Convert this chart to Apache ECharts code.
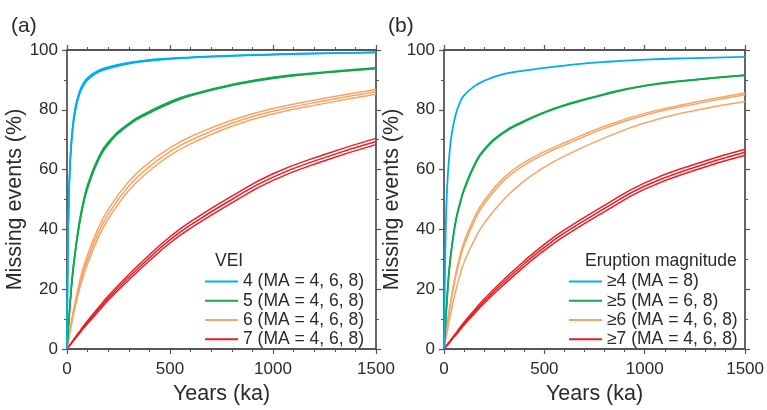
<!DOCTYPE html>
<html>
<head>
<meta charset="utf-8">
<script src="https://cdn.jsdelivr.net/npm/echarts@6/dist/echarts.min.js"></script>
<style>
html,body{margin:0;padding:0;background:#fff;}
#c{width:767px;height:410px;}
</style>
</head>
<body>
<div id="c"></div>
<script>
// Years (ka) sample positions shared by all curves
const X = [0,3,8,15,25,40,60,80,100,150,200,300,400,500,600,800,1000,1250,1500];

// Panel (a): VEI, MA = 4, 6, 8
const a_vei4_ma4 = [0,23,45,60.5,71,79.2,85,88,89.9,92.5,93.7,95.4,96.3,96.95,97.4,98,98.4,98.85,99.15];
const a_vei4_ma6 = [0,25,47,62,72,80,85.5,88.5,90.3,92.8,94,95.6,96.5,97.1,97.5,98.1,98.5,98.9,99.2];
const a_vei4_ma8 = [0,27,49,63.5,73,80.8,86,89,90.7,93.1,94.3,95.8,96.7,97.25,97.6,98.2,98.6,98.95,99.25];

const a_vei5_ma4 = [0,3.3,8.2,14.6,22.8,32,41.3,48.4,53.7,62.7,68.4,74.9,78.9,82.1,84.7,88.1,90.5,92.35,93.75];
const a_vei5_ma6 = [0,3.5,8.5,15,23.5,32.5,42,49,54.3,63.2,68.8,75.2,79.2,82.4,84.9,88.3,90.7,92.5,93.9];
const a_vei5_ma8 = [0,3.7,8.8,15.5,24.2,33.1,42.7,49.6,54.9,63.7,69.2,75.5,79.5,82.7,85.1,88.5,90.9,92.65,94.05];

const a_vei6_ma4 = [0,1.2,3.3,5.9,9.4,14.1,19.8,24.6,28.5,36.9,43.4,53,59.6,64.7,68.6,74.5,78.6,82.15,85.2];
const a_vei6_ma6 = [0,1.3,3.5,6.3,10,15,21,26,30,38.5,45,54.5,61,66,69.8,75.5,79.5,83,86];
const a_vei6_ma8 = [0,1.4,3.7,6.7,10.6,15.9,22.2,27.4,31.5,40.1,46.6,56,62.4,67.3,71,76.5,80.4,83.85,86.8];

const a_vei7_ma4 = [0,0.3,0.7,1.3,2.15,3.5,5.2,6.9,8.55,12.4,16.3,23.1,29.5,35.45,40.4,48.9,56.4,62.95,68.35];
const a_vei7_ma6 = [0,0.3,0.75,1.4,2.3,3.7,5.5,7.3,9,13,17,24,30.5,36.5,41.5,50,57.5,64,69.4];
const a_vei7_ma8 = [0,0.3,0.8,1.5,2.45,3.9,5.8,7.7,9.45,13.6,17.7,24.9,31.5,37.55,42.6,51.1,58.6,65.05,70.45];

// Panel (b): eruption magnitude
const b_m4_ma8 = [0,16,38,53,63.5,72.5,78.8,82.5,84.8,87.8,89.7,92,93.1,94,94.8,96,96.8,97.3,97.7];

const b_m5_ma6 = [0,3.4,8.8,16.2,25.6,34.5,43,48.5,53,61,66.4,72.4,76,79,81.4,85.1,87.95,90,91.5];
const b_m5_ma8 = [0,3.5,9,16.5,26,35,43.5,49,53.5,61.5,66.8,72.7,76.3,79.2,81.6,85.3,88.1,90.1,91.6];

const b_m6_ma4 = [0,1.1,3,5.5,9,14,19.8,24.8,28.9,36.3,42,50.2,56.2,60.8,64.5,70.6,75.6,79.8,82.8];
const b_m6_ma6 = [0,1.5,4.1,7.4,11.9,17.9,24.7,30.1,34.6,42.6,48.5,56.4,61.5,65.2,68.2,73.8,78.2,81.9,85];
const b_m6_ma8 = [0,1.6,4.3,7.8,12.5,18.8,25.8,31.3,35.8,43.8,49.6,57.4,62.4,66,69,74.5,78.8,82.5,85.6];

const b_m7_ma4 = [0,0.25,0.65,1.2,1.95,3.2,4.8,6.4,8.05,11.7,15.3,21.65,27.55,33,37.75,45.95,53.45,59.8,64.8];
const b_m7_ma6 = [0,0.25,0.7,1.3,2.1,3.4,5.1,6.8,8.5,12.3,16,22.5,28.5,34,38.8,47,54.5,60.8,65.8];
const b_m7_ma8 = [0,0.25,0.75,1.4,2.25,3.6,5.4,7.2,8.95,12.9,16.7,23.35,29.45,35,39.85,48.05,55.55,61.8,66.8];

// Tick labels / names
const xTicks = [0,500,1000,1500];
const yTicks = [0,20,40,60,80,100];
const legendA = ['4 (MA = 4, 6, 8)','5 (MA = 4, 6, 8)','6 (MA = 4, 6, 8)','7 (MA = 4, 6, 8)'];
const legendB = ['\u22654 (MA = 8)','\u22655 (MA = 6, 8)','\u22656 (MA = 4, 6, 8)','\u22657 (MA = 4, 6, 8)'];

const C_BLUE = '#00AEEF', C_GREEN = '#13A84B', C_ORANGE = '#F7A466', C_RED = '#EC1C24';
const FONT = "'Liberation Sans', Arial, Helvetica, sans-serif";
const TXT = '#2a2a2a';
const FRAME = '#555';

function mk(name, ys, color, panel, width) {
  return {
    type: 'line', name: name,
    xAxisIndex: panel * 2, yAxisIndex: panel * 2,
    data: X.map((x, i) => [x, ys[i]]),
    symbol: 'none', showSymbol: false,
    smooth: 0.5,
    lineStyle: { color: color, width: width || 1.5 },
    itemStyle: { color: color },
    emphasis: { disabled: true },
    animation: false
  };
}

const series = [
  mk(legendA[3], a_vei7_ma4, C_RED, 0), mk(legendA[3], a_vei7_ma6, C_RED, 0), mk(legendA[3], a_vei7_ma8, C_RED, 0),
  mk(legendA[2], a_vei6_ma4, C_ORANGE, 0), mk(legendA[2], a_vei6_ma6, C_ORANGE, 0), mk(legendA[2], a_vei6_ma8, C_ORANGE, 0),
  mk(legendA[1], a_vei5_ma4, C_GREEN, 0), mk(legendA[1], a_vei5_ma6, C_GREEN, 0), mk(legendA[1], a_vei5_ma8, C_GREEN, 0),
  mk(legendA[0], a_vei4_ma4, C_BLUE, 0), mk(legendA[0], a_vei4_ma6, C_BLUE, 0), mk(legendA[0], a_vei4_ma8, C_BLUE, 0),
  mk(legendB[3], b_m7_ma4, C_RED, 1), mk(legendB[3], b_m7_ma6, C_RED, 1), mk(legendB[3], b_m7_ma8, C_RED, 1),
  mk(legendB[2], b_m6_ma4, C_ORANGE, 1), mk(legendB[2], b_m6_ma6, C_ORANGE, 1), mk(legendB[2], b_m6_ma8, C_ORANGE, 1),
  mk(legendB[1], b_m5_ma6, C_GREEN, 1, 1.7), mk(legendB[1], b_m5_ma8, C_GREEN, 1, 1.7),
  mk(legendB[0], b_m4_ma8, C_BLUE, 1, 1.8)
];

function xAx(grid, pos, labels) {
  return {
    type: 'value', gridIndex: grid, position: pos,
    min: xTicks[0], max: xTicks[xTicks.length - 1], interval: 500,
    name: labels ? 'Years (ka)' : '', nameLocation: 'middle', nameGap: 34,
    nameTextStyle: { fontSize: 21.5, color: TXT, fontFamily: FONT },
    axisLine: { show: true, onZero: false, lineStyle: { color: FRAME, width: 1.8 } },
    axisTick: { show: true, inside: false, length: 5, lineStyle: { color: FRAME, width: 1.2 } },
    minorTick: { show: true, splitNumber: 5, length: 3, lineStyle: { color: FRAME, width: 1 } },
    axisLabel: { show: labels, margin: 12, fontSize: 17, color: TXT, fontFamily: FONT,
      formatter: v => String(v), showMinLabel: true, showMaxLabel: true },
    splitLine: { show: false }, minorSplitLine: { show: false }
  };
}
function yAx(grid, pos, labels) {
  return {
    type: 'value', gridIndex: grid, position: pos,
    min: yTicks[0], max: yTicks[yTicks.length - 1], interval: 20,
    name: labels ? 'Missing events (%)' : '', nameLocation: 'middle', nameGap: 27, nameRotate: 90,
    nameTextStyle: { fontSize: 21.5, color: TXT, fontFamily: FONT },
    axisLine: { show: true, onZero: false, lineStyle: { color: FRAME, width: 1.8 } },
    axisTick: { show: true, inside: false, length: 5, lineStyle: { color: FRAME, width: 1.2 } },
    minorTick: { show: true, splitNumber: 2, length: 3, lineStyle: { color: FRAME, width: 1 } },
    axisLabel: { show: labels, margin: 9, fontSize: 17, color: TXT, fontFamily: FONT,
      formatter: v => String(v) },
    splitLine: { show: false }, minorSplitLine: { show: false }
  };
}

function legend(names, left) {
  return {
    data: names, orient: 'vertical', left: left, top: 272,
    icon: 'rect', itemWidth: 33, itemHeight: 2, itemGap: 0, padding: 0,
    selectedMode: false,
    textStyle: { fontSize: 17.5, color: TXT, fontFamily: FONT, lineHeight: 19.2, padding: [0,0,0,0] }
  };
}

const option = {
  animation: false,
  backgroundColor: '#fff',
  textStyle: { fontFamily: FONT },
  title: [
    { text: '(a)', left: 11, top: 16, padding: 0, textStyle: { fontSize: 21, fontWeight: 'normal', color: TXT, fontFamily: FONT } },
    { text: '(b)', left: 388, top: 16, padding: 0, textStyle: { fontSize: 21, fontWeight: 'normal', color: TXT, fontFamily: FONT } },
    { text: 'VEI', left: 215, top: 252, padding: 0, textStyle: { fontSize: 17.5, fontWeight: 'normal', color: TXT, fontFamily: FONT } },
    { text: 'Eruption magnitude', left: 585, top: 252, padding: 0, textStyle: { fontSize: 17.5, fontWeight: 'normal', color: TXT, fontFamily: FONT } }
  ],
  legend: [legend(legendA, 205), legend(legendB, 569)],
  grid: [
    { left: 67, top: 50, width: 309, height: 308, containLabel: false },
    { left: 444, top: 50, width: 309, height: 308, containLabel: false }
  ],
  xAxis: [xAx(0, 'bottom', true), xAx(0, 'top', false), xAx(1, 'bottom', true), xAx(1, 'top', false)],
  yAxis: [yAx(0, 'left', true), yAx(0, 'right', false), yAx(1, 'left', true), yAx(1, 'right', false)],
  series: series
};

const chart = echarts.init(document.getElementById('c'), null, { renderer: 'canvas' });
chart.setOption(option);
</script>
</body>
</html>
